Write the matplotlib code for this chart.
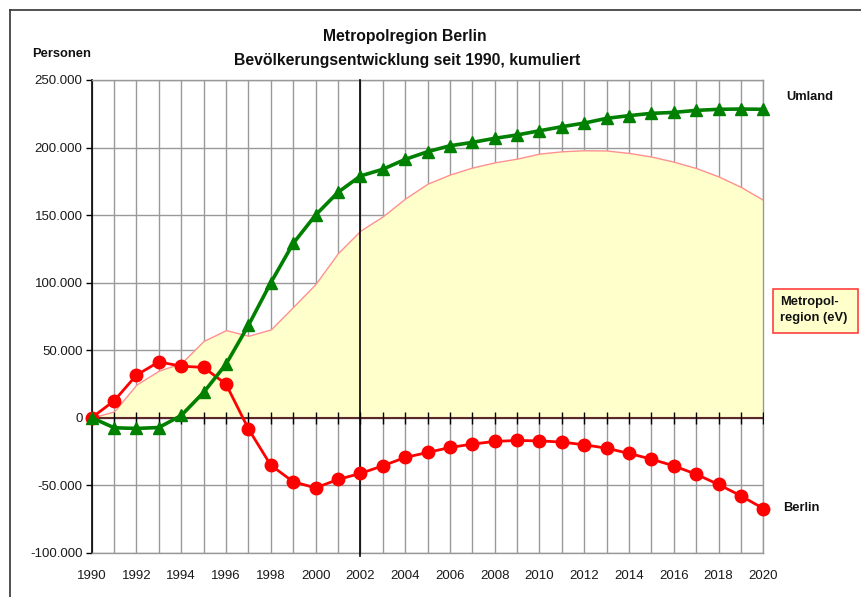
import matplotlib
matplotlib.use("Agg")
import matplotlib.pyplot as plt
import numpy as np
from matplotlib.lines import Line2D
from matplotlib.patches import Rectangle

plt.rcParams['font.family'] = ['Liberation Sans', 'DejaVu Sans']

years = list(range(1990, 2021))
umland = [0, -7500, -8000, -7300, 1600, 18700, 39600, 68300, 99900, 129000,
          150000, 166800, 178900, 183900, 191200, 196900, 201300, 203800, 206800, 209300,
          212400, 215400, 218100, 221600, 223600, 225300, 226000, 227500, 228300, 228500,
          228300]
berlin = [0, 12400, 31500, 41300, 38100, 37200, 24800, -8300, -35200, -47500,
          -52000, -45800, -41300, -35700, -29500, -25800, -22100, -19600, -17600, -16900,
          -17200, -18100, -20100, -22600, -26500, -30700, -35700, -41900, -49500, -57900,
          -67300]
metro = [0, 4600, 24500, 34800, 40300, 56800, 64800, 60600, 65300, 82000,
         99000, 121800, 138400, 149000, 162200, 173200, 180000, 185200, 189000, 191800,
         195500, 197200, 198000, 197800, 196000, 193300, 189500, 184800, 178600, 170800,
         161200]

W, H = 861, 597
fig = plt.figure(figsize=(W / 100, H / 100), dpi=100)
fig.patch.set_facecolor('white')

x0, x1 = 91.7, 763.3
ytop, ybot = 80.0, 552.7
ax = fig.add_axes([x0 / W, 1 - ybot / H, (x1 - x0) / W, (ybot - ytop) / H])
ax.set_xlim(1990, 2020)
ax.set_ylim(-100000, 250000)

# grid
ax.set_xticks(years, minor=True)
ax.set_xticks(list(range(1990, 2021, 2)))
ax.set_xticklabels([str(y) for y in range(1990, 2021, 2)])
ax.set_yticks(list(range(-100000, 250001, 50000)))
ax.set_yticklabels([f"{v:,}".replace(',', '.') for v in range(-100000, 250001, 50000)])
ax.grid(True, which='both', color='#999999', lw=1.0, zorder=0)
ax.set_axisbelow(True)

ax.tick_params(axis='x', which='both', length=0, pad=12.2, labelsize=9.5, colors='#1a1a1a')
ax.tick_params(axis='y', which='both', length=4.5, width=1, direction='out', pad=2,
               labelsize=9.5, colors='black')
for lab in ax.get_yticklabels():
    lab.set_color('#1a1a1a')

for s in ['top', 'right', 'bottom']:
    ax.spines[s].set_color('#999999')
    ax.spines[s].set_linewidth(1.0)
ax.spines['left'].set_color('black')
ax.spines['left'].set_linewidth(1.2)

# metro area
ax.fill_between(years, 0, metro, facecolor='#FFFFCC', edgecolor='#FF9090', lw=1.0, zorder=2)

# zero line with crossing ticks
ax.axhline(0, color='#5a2a2a', lw=1.5, zorder=3)
ax.plot(years, [0] * len(years), ls='none', marker='|', ms=8, mew=1.0, color='black', zorder=3)

# 2002 vertical line
ax.axvline(2002, color='black', lw=1.2, zorder=3, ymin=-0.006, ymax=1.0, clip_on=False)

# series
ax.plot(years, berlin, color='#FF0000', lw=2.0, marker='o', ms=9, mfc='#FF0000', mec='#FF0000',
        zorder=5, clip_on=False)
ax.plot(years, umland, color='#008000', lw=2.6, marker='^', ms=9, mfc='#008000', mec='#008000',
        zorder=6, clip_on=False)

# texts
fig.text(405 / W, 1 - 37 / H, 'Metropolregion Berlin', ha='center', va='center',
         fontsize=11.3, fontweight='bold', color='#111111')
fig.text(407 / W, 1 - 60 / H, 'Bevölkerungsentwicklung seit 1990, kumuliert', ha='center', va='center',
         fontsize=11.3, fontweight='bold', color='#111111')
fig.text(32 / W, 1 - 54 / H, 'Personen', ha='left', va='center', fontsize=9.3, fontweight='bold', color='#111111')
fig.text(786 / W, 1 - 97 / H, 'Umland', ha='left', va='center', fontsize=9.3, fontweight='bold', color='#111111')
fig.text(783 / W, 1 - 508 / H, 'Berlin', ha='left', va='center', fontsize=9.3, fontweight='bold', color='#111111')

bx0, bx1, by0, by1 = 773.3, 858.3, 289.3, 332.7
fig.add_artist(Rectangle((bx0 / W, 1 - by1 / H), (bx1 - bx0) / W, (by1 - by0) / H,
                         transform=fig.transFigure, facecolor='#FFFFCC', edgecolor='#FF4040', lw=1.2))
fig.text(780 / W, 1 - 310 / H, 'Metropol-\nregion (eV)', ha='left', va='center', fontsize=9.3,
         fontweight='bold', color='#111111', linespacing=1.5)

# outer frame
fig.add_artist(Line2D([10 / W, 1.0], [1 - 10 / H, 1 - 10 / H], color='#333333', lw=1.2))
fig.add_artist(Line2D([10 / W, 10 / W], [0, 1 - 10 / H], color='#333333', lw=1.2))

fig.savefig('out.png', dpi=100)
